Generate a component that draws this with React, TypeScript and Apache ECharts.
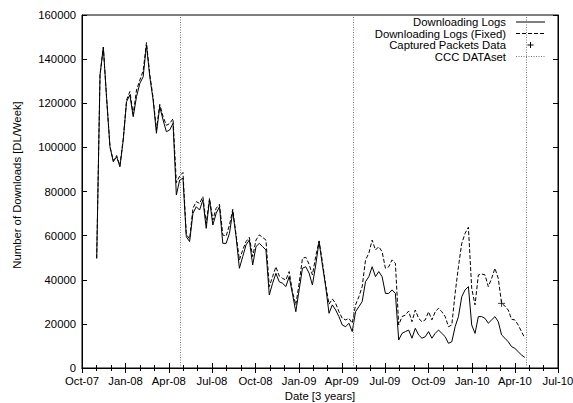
import React, { useEffect, useRef } from "react";
import * as echarts from "echarts";

// Weekly series, first week starting 2007-11-01
const firstWeek = [2007, 10, 1]; // year, monthIndex, day
const downloadingLogs = [
  49700, 132800, 145400, 122000, 100300, 93500, 95800, 91200, 103300, 120700,
  123800, 113900, 123000, 129000, 132000, 146400, 132000, 121500, 106400, 118500,
  112400, 107100, 107900, 110900, 78400, 85200, 86000, 59500, 57300, 70100,
  73100, 71600, 76200, 63300, 76200, 64800, 70100, 73100, 56500, 56500,
  61000, 70900, 59500, 45200, 50500, 55800, 58000, 46700, 55000, 56500,
  55000, 53500, 33100, 38400, 42900, 39100, 38400, 36900, 41400, 33500,
  25500, 35400, 45200, 45900, 43000, 37600, 46700, 57300, 46700, 36900,
  24800, 28600, 26300, 23300, 19500, 18700, 20300, 16500, 25500, 27800,
  30100, 39100, 41400, 45900, 41400, 43700, 41400, 33800, 33800, 35400,
  33800, 12700, 15700, 16500, 17200, 13500, 18000, 15000, 13500, 14200,
  16500, 13500, 15700, 17200, 15700, 14200, 11200, 11900, 18700, 23300,
  32300, 35400, 36900, 19500, 15700, 23300, 23300, 22500, 20300, 21800,
  23300, 21000, 15000, 13500, 11900, 9700, 8900, 7400, 5900, 4800,
];
const downloadingLogsFixed = [
  49700, 132800, 145400, 122000, 100300, 94000, 96300, 91700, 104000, 121500,
  125300, 115000, 126000, 130500, 134700, 147500, 133000, 122500, 108000, 119500,
  114000, 110000, 110800, 113000, 84000, 87000, 88600, 60500, 58500, 72400,
  75400, 74600, 77700, 65600, 76900, 67100, 72400, 74200, 60300, 59800,
  64800, 71900, 60300, 49000, 53500, 57300, 59200, 50500, 58000, 60300,
  59200, 58000, 36900, 41400, 45900, 41700, 40600, 39900, 43700, 34500,
  28600, 38400, 49700, 50200, 47000, 42200, 50500, 57600, 48200, 37600,
  28900, 31300, 29300, 25500, 22500, 21800, 22500, 20300, 28600, 32300,
  36900, 49000, 52000, 58000, 53500, 55000, 52700, 45200, 45900, 49000,
  47500, 19500, 23300, 24000, 25800, 21000, 26300, 22500, 21000, 21800,
  25500, 21800, 25500, 27100, 25500, 23300, 18700, 19500, 33800, 45900,
  56500, 61000, 63800, 36100, 28600, 42200, 42600, 42200, 36900, 40600,
  45200, 40600, 29300, 28100, 26300, 22100, 21800, 19500, 16500, 13500,
];
const capturedDates = ["2010-03-04"];
const capturedValues = [29300];
const cccDates = ["2008-04-26", "2009-04-26", "2010-04-25"];
const yTicks = [0, 20000, 40000, 60000, 80000, 100000, 120000, 140000, 160000];
const monthNames = ["Jan", "Feb", "Mar", "Apr", "May", "Jun", "Jul", "Aug", "Sep", "Oct", "Nov", "Dec"];
const legendNames = ["Downloading Logs", "Downloading Logs (Fixed)", "Captured Packets Data", "CCC DATAset"];

const FONT = "Liberation Sans, Arial, Helvetica, sans-serif";
const FS = 11.3;

function weekDate(i: number) {
  return new Date(firstWeek[0], firstWeek[1], firstWeek[2] + 7 * i).getTime();
}

export default function App() {
  const ref = useRef<HTMLDivElement>(null);
  useEffect(() => {
    if (!ref.current) return;
    const chart = echarts.init(ref.current, undefined, { renderer: "svg" });
    const xMin = new Date(2007, 9, 1).getTime();
    const xMax = new Date(2010, 6, 1).getTime();
    const fmt = (v: number) => {
      const d = new Date(v);
      return monthNames[d.getMonth()] + "-" + String(d.getFullYear()).slice(2);
    };
    const baseX = {
      type: "time",
      min: xMin,
      max: xMax,
      splitNumber: 11,
      axisLine: { show: true, lineStyle: { color: "#000", width: 1 } },
      axisTick: { show: true, inside: true, length: 5, lineStyle: { color: "#000" } },
      minorTick: { show: true, splitNumber: 3, length: 3, lineStyle: { color: "#000" } },
      splitLine: { show: false },
    };
    const baseY = {
      type: "value",
      min: 0,
      max: yTicks[yTicks.length - 1],
      interval: yTicks[1] - yTicks[0],
      axisLine: { show: true, lineStyle: { color: "#000", width: 1 } },
      axisTick: { show: true, inside: true, length: 5, lineStyle: { color: "#000" } },
      splitLine: { show: false },
    };
    const lx0 = 516, lx1 = 545, ltx = 506;
    const rows = [22, 33.5, 45, 56.5];
    const option: any = {
      animation: false,
      backgroundColor: "#fff",
      textStyle: { fontFamily: FONT },
      grid: {
        left: 82, right: 15, top: 15, bottom: 35,
        show: true, borderColor: "#000", borderWidth: 1,
        containLabel: false, outerBoundsMode: "none",
      },
      xAxis: [
        {
          ...baseX,
          position: "bottom",
          axisLabel: {
            formatter: fmt, color: "#000", fontSize: FS, fontFamily: FONT, margin: 7,
            hideOverlap: false, showMinLabel: true, showMaxLabel: true,
          },
          name: "Date [3 years]",
          nameLocation: "middle",
          nameGap: 22,
          nameTextStyle: { color: "#000", fontSize: FS, fontFamily: FONT },
        },
        { ...baseX, position: "top", axisLabel: { show: false } },
      ],
      yAxis: [
        {
          ...baseY,
          position: "left",
          axisLabel: { color: "#000", fontSize: FS, fontFamily: FONT, margin: 6, formatter: (v: number) => String(v) },
        },
        { ...baseY, position: "right", axisLabel: { show: false } },
      ],
      series: [
        {
          name: legendNames[0],
          type: "line",
          data: downloadingLogs.map((v, i) => [weekDate(i), v]),
          showSymbol: false,
          symbol: "none",
          lineStyle: { color: "#000", width: 1 },
          z: 3,
        },
        {
          name: legendNames[1],
          type: "line",
          data: downloadingLogsFixed.map((v, i) => [weekDate(i), v]),
          showSymbol: false,
          symbol: "none",
          lineStyle: { color: "#000", width: 1, type: [4, 2] },
          z: 2,
        },
        {
          name: legendNames[2],
          type: "scatter",
          data: capturedDates.map((d, i) => [d, capturedValues[i]]),
          symbol: "path://M0,5L10,5M5,0L5,10",
          symbolSize: 7,
          itemStyle: { color: "none", borderColor: "#000", borderWidth: 1 },
          z: 4,
        },
        {
          name: legendNames[3],
          type: "line",
          data: [],
          markLine: {
            silent: true,
            symbol: ["none", "none"],
            label: { show: false },
            lineStyle: { color: "#777", width: 1, type: [1, 1.5] },
            data: cccDates.map((d) => ({ xAxis: d })),
          },
        },
      ],
      graphic: [
        ...legendNames.map((n, i) => ({
          type: "text",
          x: ltx,
          y: rows[i],
          style: { text: n, fill: "#000", font: `${FS}px ${FONT}`, textAlign: "right", textVerticalAlign: "middle" },
        })),
        { type: "line", shape: { x1: lx0, y1: rows[0], x2: lx1, y2: rows[0] }, style: { stroke: "#000", lineWidth: 1 } },
        { type: "line", shape: { x1: lx0, y1: rows[1], x2: lx1, y2: rows[1] }, style: { stroke: "#000", lineWidth: 1, lineDash: [4, 2] } },
        { type: "line", shape: { x1: (lx0 + lx1) / 2 - 3, y1: rows[2], x2: (lx0 + lx1) / 2 + 3, y2: rows[2] }, style: { stroke: "#000", lineWidth: 1 } },
        { type: "line", shape: { x1: (lx0 + lx1) / 2, y1: rows[2] - 3, x2: (lx0 + lx1) / 2, y2: rows[2] + 3 }, style: { stroke: "#000", lineWidth: 1 } },
        { type: "line", shape: { x1: lx0, y1: rows[3], x2: lx1, y2: rows[3] }, style: { stroke: "#777", lineWidth: 1, lineDash: [1, 1.5] } },
        {
          type: "text",
          x: 17,
          y: 185,
          rotation: Math.PI / 2,
          style: { text: "Number of Downloads [DL/Week]", fill: "#000", font: `${FS}px ${FONT}`, textAlign: "center", textVerticalAlign: "middle" },
        },
      ],
    };
    chart.setOption(option);
    return () => chart.dispose();
  }, []);
  return <div ref={ref} style={{ position: "fixed", left: 0, top: 0, width: 573, height: 403 }} />;
}
